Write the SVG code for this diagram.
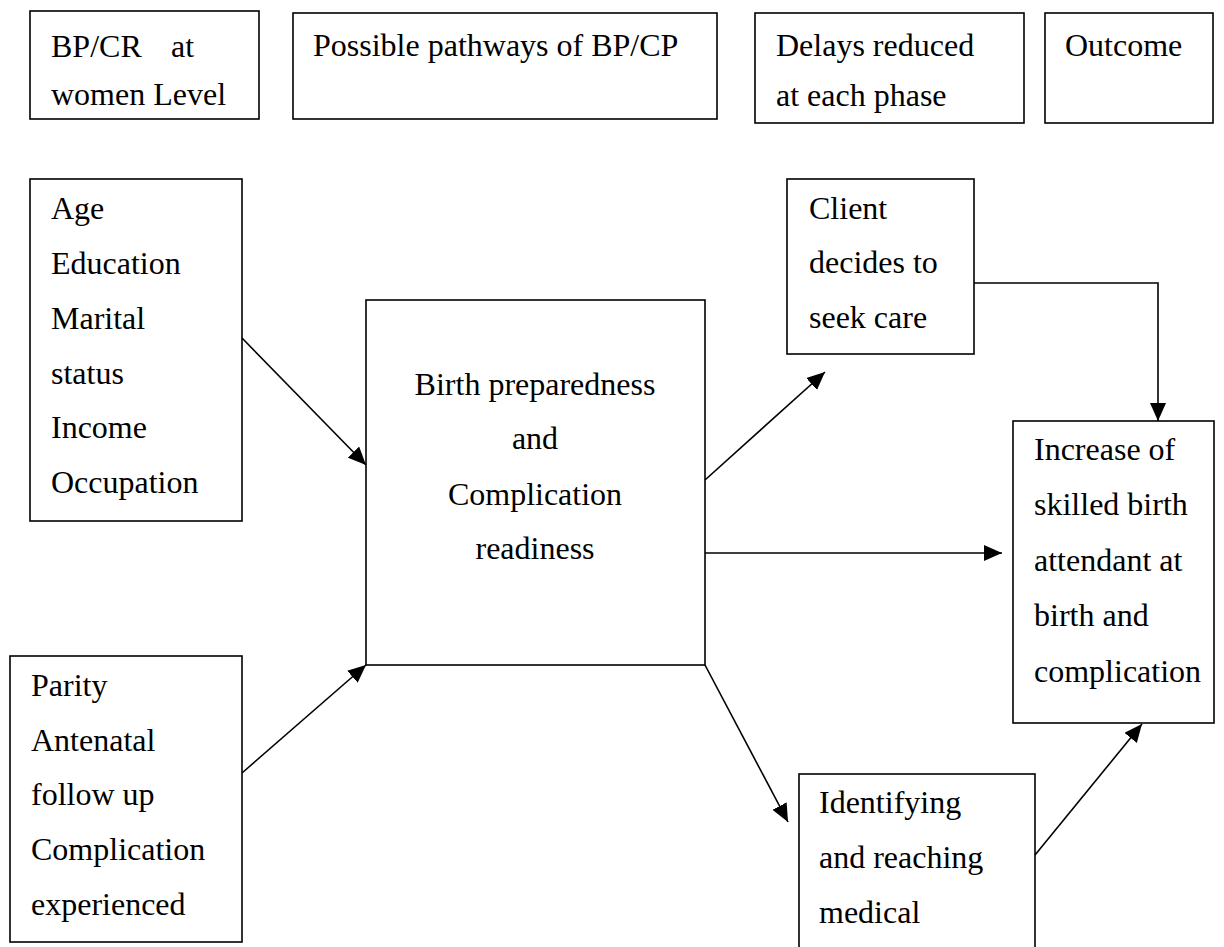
<svg xmlns="http://www.w3.org/2000/svg" width="1224" height="947" viewBox="0 0 1224 947">
<style>
.box{fill:#fff;stroke:#000;stroke-width:1.6}
.t{font-family:"Liberation Serif","Times New Roman",serif;font-size:32px;fill:#000}
.c{text-anchor:middle}
.ln{fill:none;stroke:#000;stroke-width:1.6}
</style>
<defs>
<marker id="ah" markerUnits="userSpaceOnUse" markerWidth="18" markerHeight="16" refX="18" refY="8" orient="auto">
<path d="M0,0 L18,8 L0,16 z" fill="#000"/>
</marker>
</defs>
<rect width="1224" height="947" fill="#fff"/>
<g id="h1"><rect class="box" x="30" y="11" width="229" height="108"/>
<text class="t" x="51" y="57">BP/CR<tspan x="171">at</tspan></text>
<text class="t" x="51" y="105">women Level</text></g>
<g id="h2"><rect class="box" x="293" y="13" width="424" height="106"/>
<text class="t" x="313" y="56">Possible pathways of BP/CP</text></g>
<g id="h3"><rect class="box" x="755" y="13" width="269" height="110"/>
<text class="t" x="776" y="56">Delays reduced</text>
<text class="t" x="776" y="106">at each phase</text></g>
<g id="h4"><rect class="box" x="1045" y="13" width="168" height="110"/>
<text class="t" x="1065" y="56">Outcome</text></g>
<g id="socio"><rect class="box" x="30" y="179" width="212" height="342"/>
<text class="t" x="51" y="219">Age</text>
<text class="t" x="51" y="274">Education</text>
<text class="t" x="51" y="329">Marital</text>
<text class="t" x="51" y="384">status</text>
<text class="t" x="51" y="438">Income</text>
<text class="t" x="51" y="493">Occupation</text></g>
<g id="obst"><rect class="box" x="10" y="656" width="232" height="286"/>
<text class="t" x="31" y="696">Parity</text>
<text class="t" x="31" y="751">Antenatal</text>
<text class="t" x="31" y="805">follow up</text>
<text class="t" x="31" y="860">Complication</text>
<text class="t" x="31" y="915">experienced</text></g>
<g id="bpcr"><rect class="box" x="366" y="300" width="339" height="365"/>
<text class="t c" x="535" y="395">Birth preparedness</text>
<text class="t c" x="535" y="449">and</text>
<text class="t c" x="535" y="505">Complication</text>
<text class="t c" x="535" y="559">readiness</text></g>
<g id="client"><rect class="box" x="787" y="179" width="187" height="175"/>
<text class="t" x="809" y="219">Client</text>
<text class="t" x="809" y="273">decides to</text>
<text class="t" x="809" y="328">seek care</text></g>
<g id="outcome"><rect class="box" x="1013" y="421" width="201" height="302"/>
<text class="t" x="1034" y="460">Increase of</text>
<text class="t" x="1034" y="515">skilled birth</text>
<text class="t" x="1034" y="571">attendant at</text>
<text class="t" x="1034" y="626">birth and</text>
<text class="t" x="1034" y="682">complication</text></g>
<g id="ident"><rect class="box" x="799" y="774" width="236" height="200"/>
<text class="t" x="819" y="813">Identifying</text>
<text class="t" x="819" y="868">and reaching</text>
<text class="t" x="819" y="923">medical</text></g>
<g id="connectors">
<line class="ln" x1="242" y1="338" x2="366" y2="465" marker-end="url(#ah)"/>
<line class="ln" x1="242" y1="773" x2="366" y2="665" marker-end="url(#ah)"/>
<line class="ln" x1="705" y1="480" x2="825" y2="372" marker-end="url(#ah)"/>
<polyline class="ln" points="974,283 1158,283 1158,421" marker-end="url(#ah)"/>
<line class="ln" x1="705" y1="553" x2="1002" y2="553" marker-end="url(#ah)"/>
<line class="ln" x1="705" y1="665" x2="788" y2="822" marker-end="url(#ah)"/>
<line class="ln" x1="1035" y1="855" x2="1142" y2="724" marker-end="url(#ah)"/>
</g>
</svg>
